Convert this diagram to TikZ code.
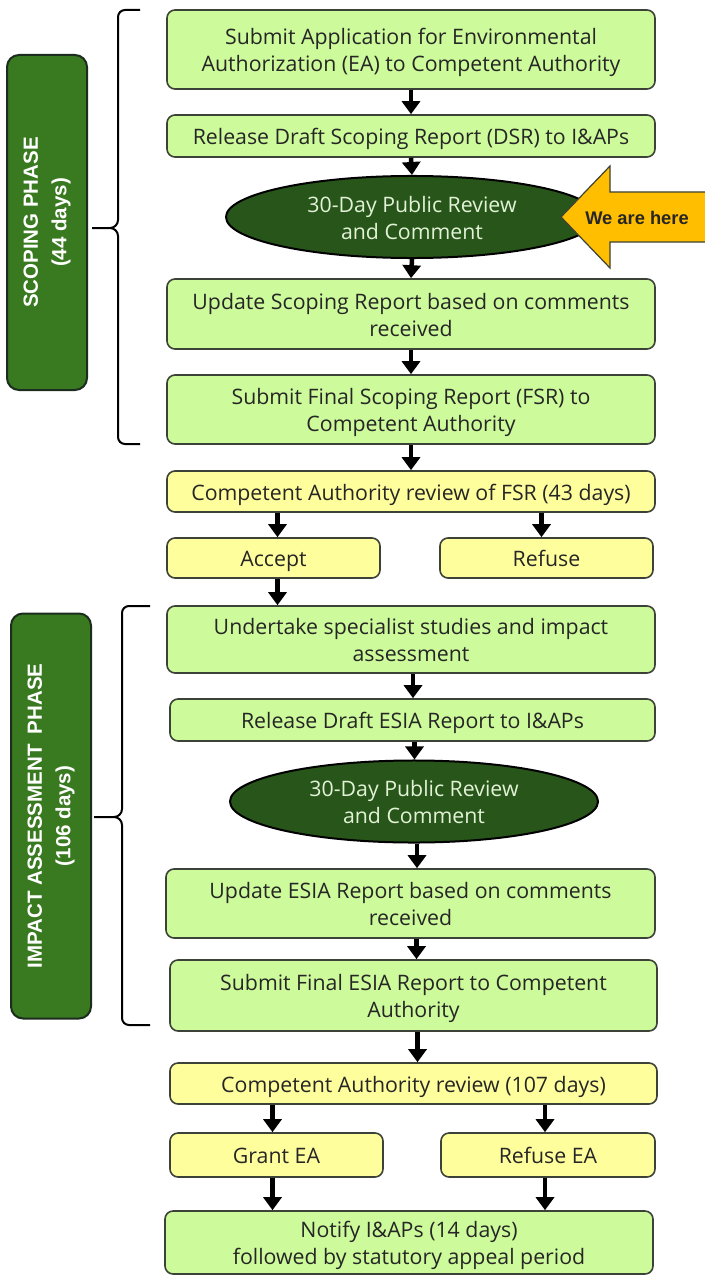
\documentclass[tikz,border=0pt]{standalone}
\usepackage{fontspec}
\setmainfont{Open Sans}
\newfontfamily\arialf{Liberation Sans}
\usetikzlibrary{arrows.meta,shapes.geometric}
\definecolor{boxgreen}{RGB}{205,250,154}
\definecolor{boxyellow}{RGB}{255,254,156}
\definecolor{edgecol}{RGB}{60,66,56}
\definecolor{ellfill}{RGB}{40,86,26}
\definecolor{elltext}{RGB}{226,242,214}
\definecolor{barfill}{RGB}{57,121,32}
\definecolor{baredge}{RGB}{28,44,30}
\definecolor{herefill}{RGB}{255,190,0}
\definecolor{txt}{RGB}{38,38,38}
\newcommand{\topstrut}{\rule{0pt}{24pt}}
\newcommand{\botstrut}{\rule[-7pt]{0pt}{0pt}}
\tikzset{
  boxbase/.style={draw=edgecol, line width=1.6pt, rounded corners=8pt, align=center, text=txt,
    font=\fontsize{21.3}{27}\selectfont, inner sep=0pt,
    execute at begin node=\topstrut, execute at end node=\botstrut},
  gbox/.style={boxbase, fill=boxgreen},
  ybox/.style={boxbase, fill=boxyellow},
  ell/.style={ellipse, draw=black, line width=2pt, fill=ellfill, text=elltext, align=center,
    font=\fontsize{21.3}{27}\selectfont, inner sep=0pt,
    execute at begin node=\topstrut, execute at end node=\botstrut},
  phasebar/.style={draw=baredge, line width=2pt, fill=barfill, rounded corners=12pt, text=white,
    align=center, font=\arialf\bfseries\fontsize{20.5}{28.5}\selectfont, inner sep=0pt},
  arr/.style={line width=4.5pt, -{Triangle[width=18pt,length=13pt]}},
  brace/.style={line width=2pt, black},
  here/.style={fill=herefill, draw=edgecol, line width=1.2pt}
}
\begin{document}
\begin{tikzpicture}[x=1pt,y=-1pt]
\useasboundingbox (0,0) rectangle (704,1276);
\fill[white] (0,0) rectangle (704,1276);

% phase bars
\node[phasebar, rotate=90, minimum width=335, minimum height=80] (scop) at (47,222.5)
  {SCOPING PHASE\\(44 days)};
\node[phasebar, rotate=90, minimum width=405, minimum height=80] (imp) at (51,816)
  {IMPACT ASSESSMENT\hspace{0.5em}PHASE\\(106 days)};

% braces
\coordinate (br1) at (92,228);
\draw[brace] (140,10) -- (125,10) to[out=180,in=90] (118,17) -- (118,220)
  to[out=-90,in=0] (110,228) -- (br1) -- (110,228) to[out=0,in=90] (118,236)
  -- (118,437) to[out=-90,in=180] (125,444) -- (140,444);
\coordinate (br2) at (94,817);
\draw[brace] (150,606) -- (129,606) to[out=180,in=90] (122,613) -- (122,809)
  to[out=-90,in=0] (114,817) -- (br2) -- (114,817) to[out=0,in=90] (122,825)
  -- (122,1018) to[out=-90,in=180] (129,1025) -- (150,1025);

% scoping phase
\node[gbox, minimum width=488, minimum height=79] (b1) at (411,49.5)
  {\topstrut Submit Application for Environmental\\Authorization (EA) to Competent Authority};
\node[gbox, minimum width=488, minimum height=42] (b2) at (411,136)
  {Release Draft Scoping Report (DSR) to I\&APs};
\node[ell, minimum width=372, minimum height=68] (e1) at (412,217)
  {\topstrut 30-Day Public Review\\and Comment};
\node[gbox, minimum width=488, minimum height=70] (b3) at (411,314)
  {\topstrut Update Scoping Report based on comments\\received};
\node[gbox, minimum width=488, minimum height=69] (b4) at (411,409.5)
  {\topstrut Submit Final Scoping Report (FSR) to\\Competent Authority};
\node[ybox, minimum width=488, minimum height=41] (ca1) at (411,491.5)
  {Competent Authority review of FSR (43 days)};
\node[ybox, minimum width=213, minimum height=40] (acc) at (273.5,558) {Accept};
\node[ybox, minimum width=213, minimum height=40] (ref) at (546.5,558) {Refuse};

% impact phase
\node[gbox, minimum width=488, minimum height=67] (b5) at (411,639.5)
  {\topstrut Undertake specialist studies and impact\\assessment};
\node[gbox, minimum width=485, minimum height=42] (b6) at (412.5,720)
  {Release Draft ESIA Report to I\&APs};
\node[ell, minimum width=368, minimum height=73] (e2) at (414,801.5)
  {\topstrut 30-Day Public Review\\and Comment};
\node[gbox, minimum width=489, minimum height=69] (b7) at (410.5,903.5)
  {\topstrut Update ESIA Report based on comments\\received};
\node[gbox, minimum width=487, minimum height=71] (b8) at (413.5,995.5)
  {\topstrut Submit Final ESIA Report to Competent\\Authority};
\node[ybox, minimum width=487, minimum height=41] (ca2) at (413.5,1083.5)
  {Competent Authority review (107 days)};
\node[ybox, minimum width=213, minimum height=44] (grant) at (276.5,1155) {Grant EA};
\node[ybox, minimum width=214, minimum height=44] (refea) at (548,1155) {Refuse EA};
\node[gbox, minimum width=488, minimum height=63] (notify) at (409,1242.5)
  {\topstrut Notify I\&APs (14 days)\\followed by statutory appeal period};

% we are here arrow
\draw[here] (561,217) -- (610,166) -- (610,192) -- (708,192) -- (708,242) -- (610,242) -- (610,268) -- cycle;
\node[font=\arialf\bfseries\fontsize{18.3}{20}\selectfont, text=txt] (wah) at (637,218) {We are here};

% connectors
\draw[arr] (b1.south) -- (b2.north);
\draw[arr] (b2.south) -- (e1.north);
\draw[arr] (e1.south) -- (b3.north);
\draw[arr] (b3.south) -- (b4.north);
\draw[arr] (b4.south) -- (ca1.north);
\draw[arr] ([xshift=4pt]acc.north |- ca1.south) -- ([xshift=4pt]acc.north);
\draw[arr] ([xshift=-5pt]ref.north |- ca1.south) -- ([xshift=-5pt]ref.north);
\draw[arr] ([xshift=4pt]acc.south) -- ([xshift=4pt]acc.south |- b5.north);
\draw[arr] ([xshift=2pt]b5.south) -- ([xshift=2pt]b5.south |- b6.north);
\draw[arr] ([xshift=2pt]b6.south) -- ([xshift=2pt]b6.south |- e2.north);
\draw[arr] ([xshift=3pt]e2.south) -- ([xshift=3pt]e2.south |- b7.north);
\draw[arr] ([xshift=6pt]b7.south) -- ([xshift=6pt]b7.south |- b8.north);
\draw[arr] ([xshift=4pt]b8.south) -- ([xshift=4pt]b8.south |- ca2.north);
\draw[arr] ([xshift=-4pt]grant.north |- ca2.south) -- ([xshift=-4pt]grant.north);
\draw[arr] ([xshift=-3pt]refea.north |- ca2.south) -- ([xshift=-3pt]refea.north);
\draw[arr] ([xshift=-4pt]grant.south) -- ([xshift=-4pt]grant.south |- notify.north);
\draw[arr] ([xshift=-3pt]refea.south) -- ([xshift=-3pt]refea.south |- notify.north);
\end{tikzpicture}
\end{document}
